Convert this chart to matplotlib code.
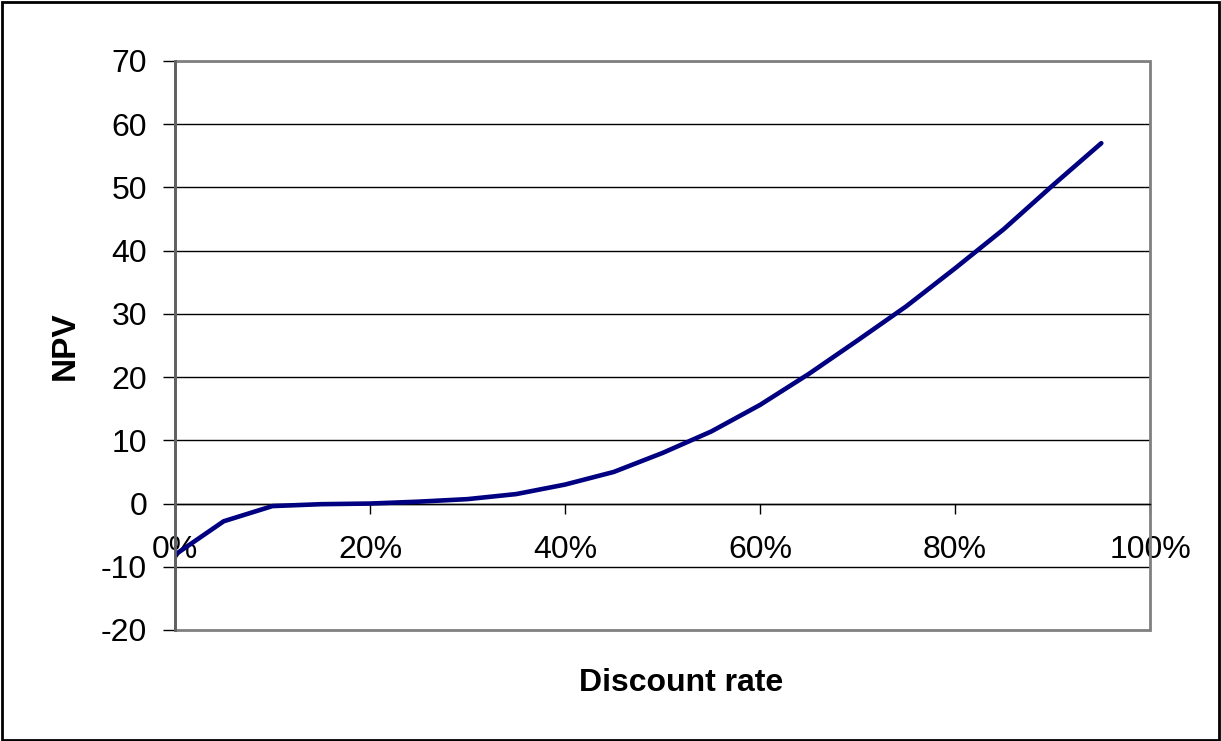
import matplotlib
matplotlib.use("Agg")
import matplotlib.pyplot as plt
from matplotlib.patches import Rectangle
from matplotlib.ticker import FuncFormatter

# discount rate vs NPV
rates = [0.00, 0.05, 0.10, 0.15, 0.20, 0.25, 0.30, 0.35, 0.40, 0.45,
         0.50, 0.55, 0.60, 0.65, 0.70, 0.75, 0.80, 0.85, 0.90, 0.95]
npv = [-8.1, -2.8, -0.4, -0.1, 0.0, 0.3, 0.7, 1.5, 3.0, 5.0,
       8.0, 11.4, 15.6, 20.5, 25.8, 31.2, 37.2, 43.4, 50.3, 57.0]
y_ticks = [-20, -10, 0, 10, 20, 30, 40, 50, 60, 70]
x_ticks = [0.0, 0.2, 0.4, 0.6, 0.8, 1.0]

plt.rcParams['font.family'] = ['Liberation Sans', 'DejaVu Sans']
plt.rcParams['axes.unicode_minus'] = False

fig = plt.figure(figsize=(12.21, 7.41), dpi=100)
ax = fig.add_axes([0.1433, 0.1498, 0.7986, 0.7679])

# gridlines
for v in y_ticks[1:]:
    ax.axhline(v, color='black', lw=1.0, zorder=1)

ax.plot(rates, npv, color='#000080', lw=3.3, solid_capstyle='round', zorder=3)

ax.set_xlim(0, 1)
ax.set_ylim(-20, 70)
ax.set_yticks(y_ticks)
ax.set_xticks(x_ticks)
ax.xaxis.set_major_formatter(FuncFormatter(lambda v, p: f"{v*100:.0f}%"))

# plot area border
for s in ['top', 'right']:
    ax.spines[s].set_visible(False)
ax.add_patch(Rectangle((0, 0), 1, 1, transform=ax.transAxes, fill=False,
                       edgecolor='#808080', lw=2.0, zorder=2, clip_on=False))
ax.spines['bottom'].set_position(('data', 0))
ax.spines['bottom'].set_color('black')
ax.spines['bottom'].set_linewidth(1.0)
ax.spines['left'].set_color('#606060')
ax.spines['left'].set_linewidth(2.0)
ax.spines['left'].set_zorder(4)

ax.tick_params(axis='y', direction='out', length=9, width=1, labelsize=23, pad=11)
ax.tick_params(axis='x', direction='out', length=7, width=1, labelsize=23, pad=16)

ax.set_ylabel('NPV', fontsize=24, fontweight='bold')
ax.yaxis.set_label_coords(-0.097, 0.5)
fig.text(0.5578, 0.078, 'Discount rate', fontsize=23, fontweight='bold',
         ha='center', va='center')

# outer frame
fig.add_artist(Rectangle((0.002, 0.002), 0.996, 0.995, transform=fig.transFigure,
                         fill=False, edgecolor='black', lw=2.0))

fig.savefig('out.png', dpi=100)
